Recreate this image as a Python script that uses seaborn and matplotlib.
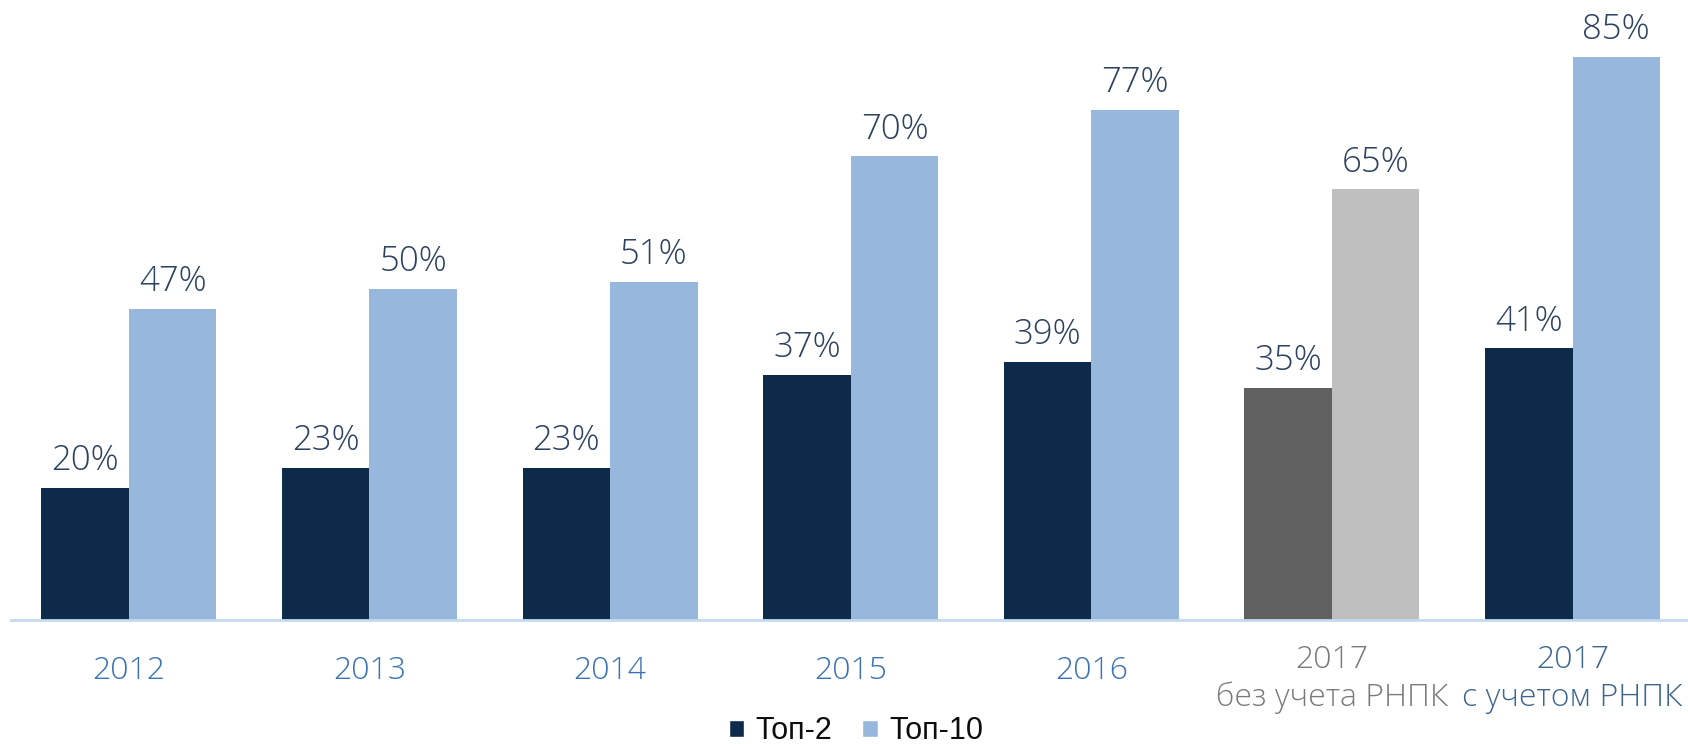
import matplotlib
matplotlib.use("Agg")
import matplotlib.pyplot as plt
import matplotlib.transforms as mtransforms
import seaborn as sns
import pandas as pd
from matplotlib.patches import Patch

categories = ["2012", "2013", "2014", "2015", "2016", "2017\nбез учета РНПК", "2017\nс учетом РНПК"]
series_names = ["Топ-2", "Топ-10"]
top2 = [20, 23, 23, 37, 39, 35, 41]
top10 = [47, 50, 51, 70, 77, 65, 85]
label_colors = ["#3a72b5", "#3a72b5", "#3a72b5", "#3a72b5", "#3a72b5", "#7a7a7a", "#3d6690"]

NAVY = "#0e2a4a"
LIGHT = "#98b7dc"
GDARK = "#606060"
GLIGHT = "#bfbfbf"
VAL = "#2d4160"

df = pd.DataFrame({
    "cat": categories * 2,
    "series": [series_names[0]] * len(categories) + [series_names[1]] * len(categories),
    "value": top2 + top10,
})

sns.set_theme(style="white")
plt.rcParams["font.family"] = ["Open Sans", "DejaVu Sans"]

fig = plt.figure(figsize=(16.88, 7.44), dpi=100)
ax = fig.add_axes([0.0065, 0.1667, 0.9935, 0.8333])

sns.barplot(data=df, x="cat", y="value", hue="series", order=categories,
            hue_order=series_names, palette=[NAVY, LIGHT], width=0.728,
            saturation=1, ax=ax, legend=False, linewidth=0)

# recolor the "без учета РНПК" group to gray
for i, cont in enumerate(ax.containers):
    for j, bar in enumerate(cont):
        if j == 5:
            bar.set_facecolor(GDARK if i == 0 else GLIGHT)
    vals = top2 if i == 0 else top10
    labels = [f"{v}%" for v in vals]
    ax.bar_label(cont, labels=labels, padding=7, fontsize=25, color=VAL,
                 fontweight=300)

ax.set_xlim(-0.49, 6.48)
ax.set_ylim(0, 93.6)
ax.set_yticks([])
ax.set_xlabel("")
ax.set_ylabel("")
for s in ["top", "right", "left"]:
    ax.spines[s].set_visible(False)
ax.spines["bottom"].set_color("#c5d9f0")
ax.spines["bottom"].set_linewidth(2)

ax.set_xticks(range(len(categories)))
ax.set_xticklabels(categories, fontsize=23, fontweight=300, linespacing=1.22)
ax.tick_params(axis="x", length=0, pad=37)
shift = mtransforms.ScaledTranslation(0, -0.075, fig.dpi_scale_trans)
for t, c, cat in zip(ax.get_xticklabels(), label_colors, categories):
    t.set_color(c)
    t.set_verticalalignment("center")
    if "\n" in cat:
        t.set_transform(t.get_transform() + shift)

handles = [Patch(facecolor=NAVY, label=series_names[0]),
           Patch(facecolor=LIGHT, label=series_names[1])]
fig.legend(handles=handles, loc="center", bbox_to_anchor=(0.507, 0.017), ncol=2,
           frameon=False, prop={"family": "Liberation Sans", "size": 22},
           handlelength=0.52, handleheight=0.52, handletextpad=0.35, columnspacing=1.0,
           labelcolor="#0d0d0d", borderpad=0)

fig.savefig("out.png", dpi=100)
